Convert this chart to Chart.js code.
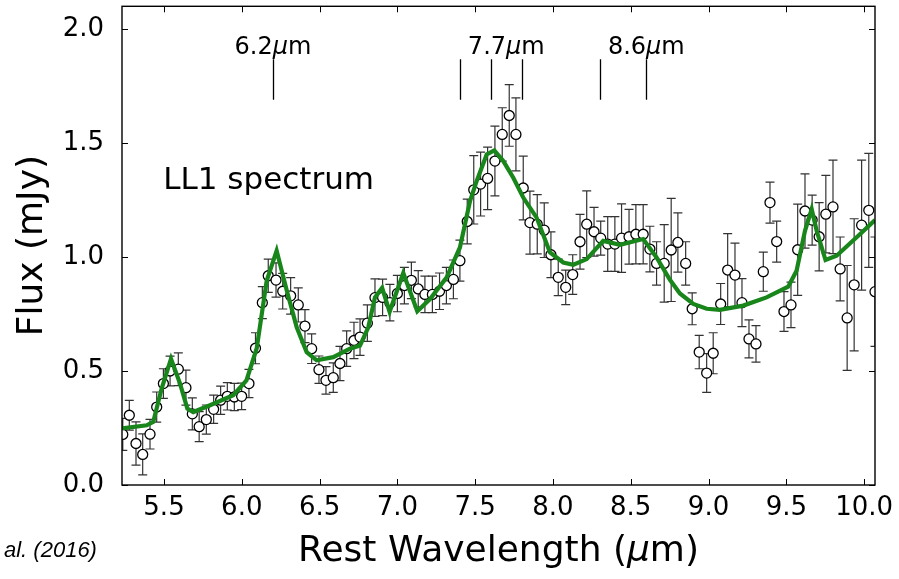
<!DOCTYPE html>
<html>
<head>
<meta charset="utf-8">
<script src="https://cdn.jsdelivr.net/npm/chart.js@4.4.0/dist/chart.umd.min.js"></script>
<style>
    html, body { margin: 0; padding: 0; background: #fff; }
</style>
</head>
<body>
<canvas id="spectrum" width="899" height="579"></canvas>
<script>
// ---- Data ----
const wavelength = [
    5.235, 5.277, 5.32, 5.363, 5.41, 5.453, 5.496, 5.539, 5.592, 5.641,
    5.682, 5.726, 5.772, 5.819, 5.864, 5.907, 5.952, 5.999, 6.046, 6.088,
    6.132, 6.17, 6.22, 6.263, 6.314, 6.363, 6.406, 6.449, 6.496, 6.541,
    6.588, 6.631, 6.674, 6.721, 6.76, 6.807, 6.856, 6.905, 6.952, 7.0,
    7.045, 7.09, 7.134, 7.177, 7.225, 7.271, 7.315, 7.36, 7.402, 7.449,
    7.491, 7.535, 7.58, 7.627, 7.674, 7.719, 7.762, 7.809, 7.852, 7.899,
    7.944, 7.987, 8.034, 8.082, 8.127, 8.174, 8.217, 8.264, 8.307, 8.352,
    8.398, 8.441, 8.489, 8.533, 8.58, 8.623, 8.666, 8.715, 8.76, 8.803,
    8.853, 8.895, 8.94, 8.988, 9.03, 9.078, 9.123, 9.17, 9.215, 9.26,
    9.305, 9.352, 9.395, 9.438, 9.485, 9.53, 9.573, 9.62, 9.666, 9.711,
    9.754, 9.80, 9.846, 9.891, 9.936, 9.984, 10.03, 10.07
];
const flux = [
    0.222, 0.306, 0.182, 0.134, 0.223, 0.342, 0.445, 0.50, 0.508, 0.427,
    0.312, 0.256, 0.287, 0.332, 0.372, 0.389, 0.386, 0.389, 0.445, 0.60,
    0.80, 0.918, 0.899, 0.85, 0.83, 0.79, 0.697, 0.598, 0.506, 0.459,
    0.471, 0.533, 0.598, 0.634, 0.649, 0.71, 0.822, 0.823, 0.80, 0.84,
    0.875, 0.898, 0.86, 0.836, 0.836, 0.85, 0.875, 0.902, 0.984, 1.156,
    1.295, 1.32, 1.345, 1.421, 1.538, 1.621, 1.538, 1.303, 1.151, 1.144,
    1.118, 1.01, 0.911, 0.867, 0.923, 1.067, 1.144, 1.111, 1.083, 1.057,
    1.057, 1.083, 1.089, 1.10, 1.10, 1.035, 0.972, 0.972, 1.031, 1.064,
    0.972, 0.773, 0.583, 0.491, 0.578, 0.794, 0.943, 0.921, 0.80, 0.641,
    0.619, 0.936, 1.239, 1.068, 0.761, 0.79, 1.032, 1.202, 1.162, 1.089,
    1.188, 1.22, 0.948, 0.733, 0.878, 1.14, 1.205, 0.848
];
const fluxErr = [
    0.07, 0.065, 0.095, 0.09, 0.065, 0.066, 0.065, 0.065, 0.072, 0.077,
    0.07, 0.066, 0.064, 0.062, 0.062, 0.06, 0.06, 0.058, 0.062, 0.068,
    0.07, 0.073, 0.075, 0.078, 0.08, 0.075, 0.072, 0.065, 0.06, 0.06,
    0.065, 0.075, 0.078, 0.08, 0.08, 0.08, 0.082, 0.08, 0.08, 0.08,
    0.08, 0.08, 0.08, 0.08, 0.08, 0.08, 0.08, 0.085, 0.09, 0.098,
    0.15, 0.14, 0.137, 0.153, 0.117, 0.135, 0.16, 0.14, 0.138, 0.13,
    0.12, 0.1, 0.08, 0.076, 0.087, 0.12, 0.146, 0.107, 0.075, 0.12,
    0.12, 0.15, 0.12, 0.13, 0.13, 0.1, 0.095, 0.17, 0.226, 0.13,
    0.095, 0.07, 0.073, 0.085, 0.09, 0.09, 0.16, 0.14, 0.105, 0.083,
    0.08, 0.086, 0.09, 0.09, 0.087, 0.1, 0.2, 0.163, 0.11, 0.15,
    0.17, 0.205, 0.14, 0.23, 0.29, 0.285, 0.25, 0.24
];

// PAH model fit (green curve)
const modelWavelength = [
    5.23, 5.389, 5.431, 5.485, 5.545, 5.603, 5.65, 5.688, 5.796, 5.945,
    6.03, 6.096, 6.16, 6.224, 6.289, 6.353, 6.417, 6.481, 6.588, 6.695,
    6.76, 6.813, 6.856, 6.902, 6.95, 7.038, 7.128, 7.21, 7.317, 7.402,
    7.467, 7.51, 7.574, 7.623, 7.681, 7.745, 7.809, 7.895, 7.981, 8.066,
    8.131, 8.217, 8.323, 8.431, 8.58, 8.666, 8.752, 8.816, 8.902, 8.988,
    9.073, 9.223, 9.373, 9.512, 9.566, 9.62, 9.663, 9.695, 9.752, 9.823,
    9.973, 10.07
];
const modelFlux = [
    0.248, 0.262, 0.277, 0.423, 0.554, 0.445, 0.335, 0.32, 0.35, 0.394,
    0.459, 0.60, 0.896, 1.028, 0.853, 0.692, 0.583, 0.547, 0.561, 0.598,
    0.612, 0.692, 0.823, 0.865, 0.76, 0.93, 0.762, 0.816, 0.911, 1.042,
    1.246, 1.334, 1.45, 1.468, 1.421, 1.348, 1.261, 1.173, 1.02, 0.976,
    0.966, 0.991, 1.071, 1.054, 1.079, 0.998, 0.90, 0.84, 0.794, 0.773,
    0.768, 0.787, 0.823, 0.87, 0.94, 1.115, 1.21, 1.115, 0.987, 1.006,
    1.10, 1.162
];

// feature markers
const featureLines = [6.2, 7.4, 7.6, 7.8, 8.3, 8.6];
const featureLabelAt = [6.2, 7.7, 8.6];
const featureLabelText = ['6.2', '7.7', '8.6'];

const FONT = 'DejaVu Sans';
const GREEN = 'rgb(24, 134, 26)';

// draws "pre" + italic mu + "post" centred on cx
function drawMuText(ctx, pre, post, cx, cy, size) {
    const normal = `${size}px "${FONT}"`;
    const italic = `italic ${size}px "${FONT}"`;
    ctx.font = normal;
    const w1 = ctx.measureText(pre).width;
    const w3 = ctx.measureText(post).width;
    ctx.font = italic;
    const w2 = ctx.measureText('\u03bc').width;
    let x = cx - (w1 + w2 + w3) / 2;
    ctx.textAlign = 'left';
    ctx.font = normal;
    ctx.fillText(pre, x, cy);
    x += w1;
    ctx.font = italic;
    ctx.fillText('\u03bc', x, cy);
    x += w2;
    ctx.font = normal;
    ctx.fillText(post, x, cy);
}

// ---- Error bars ----
const errorBars = {
    id: 'errorBars',
    beforeDatasetsDraw(chart) {
        const { ctx, chartArea: a, scales: { x, y } } = chart;
        ctx.save();
        ctx.beginPath();
        ctx.rect(a.left, a.top, a.right - a.left, a.bottom - a.top);
        ctx.clip();
        ctx.strokeStyle = '#333';
        ctx.lineWidth = 1.2;
        wavelength.forEach((w, i) => {
            const px = x.getPixelForValue(w);
            const top = y.getPixelForValue(flux[i] + fluxErr[i]);
            const bot = y.getPixelForValue(flux[i] - fluxErr[i]);
            ctx.beginPath();
            ctx.moveTo(px, top); ctx.lineTo(px, bot);
            ctx.moveTo(px - 4.5, top); ctx.lineTo(px + 4.5, top);
            ctx.moveTo(px - 4.5, bot); ctx.lineTo(px + 4.5, bot);
            ctx.stroke();
        });
        ctx.restore();
    }
};

// ---- Frame, inward ticks, labels ----
const decorations = {
    id: 'decorations',
    afterDraw(chart) {
        const { ctx, chartArea: a, scales: { x, y } } = chart;
        ctx.save();

        // frame
        ctx.strokeStyle = '#000';
        ctx.lineWidth = 1.4;
        ctx.strokeRect(a.left, a.top, a.right - a.left, a.bottom - a.top);

        // inward ticks on all four sides
        ctx.lineWidth = 1;
        ctx.beginPath();
        x.ticks.forEach(t => {
            const px = Math.round(x.getPixelForValue(t.value)) + 0.5;
            ctx.moveTo(px, a.bottom); ctx.lineTo(px, a.bottom - 6);
            ctx.moveTo(px, a.top); ctx.lineTo(px, a.top + 6);
        });
        y.ticks.forEach(t => {
            const py = Math.round(y.getPixelForValue(t.value)) + 0.5;
            ctx.moveTo(a.left, py); ctx.lineTo(a.left + 6, py);
            ctx.moveTo(a.right, py); ctx.lineTo(a.right - 6, py);
        });
        ctx.stroke();

        // feature markers
        ctx.lineWidth = 1.3;
        ctx.beginPath();
        featureLines.forEach(w => {
            const px = Math.round(x.getPixelForValue(w)) + 0.5;
            ctx.moveTo(px, y.getPixelForValue(1.69));
            ctx.lineTo(px, y.getPixelForValue(1.868));
        });
        ctx.stroke();

        ctx.fillStyle = '#000';
        ctx.textBaseline = 'alphabetic';
        featureLabelAt.forEach((w, i) => {
            drawMuText(ctx, featureLabelText[i], 'm', x.getPixelForValue(w), y.getPixelForValue(1.89), 24);
        });

        ctx.textAlign = 'left';
        ctx.font = `31px "${FONT}"`;
        ctx.fillText('LL1 spectrum', x.getPixelForValue(5.495), y.getPixelForValue(1.3));

        // x axis title
        ctx.textBaseline = 'middle';
        drawMuText(ctx, 'Rest Wavelength (', 'm)', (a.left + a.right) / 2, 552, 36);

        // cropped citation at lower left
        ctx.textAlign = 'left';
        ctx.textBaseline = 'alphabetic';
        ctx.font = 'italic 22px "Liberation Sans"';
        ctx.fillText('al. (2016)', 4, 557);

        ctx.restore();
    }
};

new Chart(document.getElementById('spectrum'), {
    type: 'scatter',
    data: {
        datasets: [
            {
                type: 'line',
                label: 'model',
                data: modelWavelength.map((w, i) => ({ x: w, y: modelFlux[i] })),
                borderColor: GREEN,
                borderWidth: 4.2,
                pointRadius: 0,
                tension: 0,
                fill: false
            },
            {
                label: 'LL1',
                data: wavelength.map((w, i) => ({ x: w, y: flux[i] })),
                pointRadius: 5,
                pointBackgroundColor: '#fff',
                pointBorderColor: '#000',
                pointBorderWidth: 1.3
            }
        ]
    },
    options: {
        responsive: false,
        animation: false,
        devicePixelRatio: 1,
        layout: { padding: { top: 6, right: 24, left: 0, bottom: 0 } },
        plugins: {
            legend: { display: false },
            tooltip: { enabled: false }
        },
        scales: {
            x: {
                type: 'linear',
                min: 5.23,
                max: 10.07,
                grid: { display: false, drawTicks: false },
                border: { display: false },
                ticks: {
                    stepSize: 0.5,
                    includeBounds: false,
                    autoSkip: false,
                    maxRotation: 0,
                    padding: 8,
                    color: '#000',
                    font: { family: FONT, size: 26 },
                    callback: val => val.toFixed(1)
                },
                afterFit(scale) {
                    scale.height = 94;
                    scale.paddingLeft = 0;
                    scale.paddingRight = 0;
                }
            },
            y: {
                min: 0,
                max: 2.1,
                grid: { display: false, drawTicks: false },
                border: { display: false },
                ticks: {
                    stepSize: 0.5,
                    includeBounds: false,
                    padding: 18,
                    color: '#000',
                    font: { family: FONT, size: 26 },
                    callback: val => val.toFixed(1)
                },
                title: {
                    display: true,
                    text: 'Flux (mJy)',
                    color: '#000',
                    font: { family: FONT, size: 36 },
                    padding: { top: 11, bottom: 0 }
                },
                afterFit(scale) {
                    scale.width = 122;
                    scale.paddingTop = 0;
                    scale.paddingBottom = 0;
                }
            }
        }
    },
    plugins: [errorBars, decorations]
});
</script>
</body>
</html>
